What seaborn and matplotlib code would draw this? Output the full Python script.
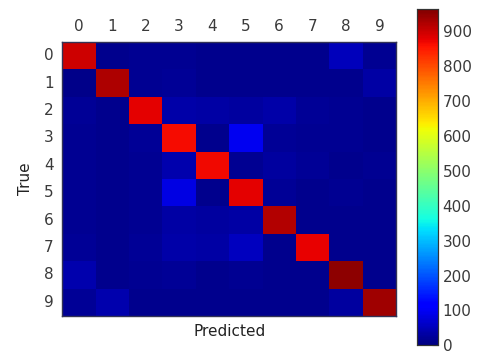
import numpy as np
import pandas as pd
import matplotlib
matplotlib.use("Agg")
import matplotlib.pyplot as plt
import seaborn as sns

classes = [str(i) for i in range(10)]
row0 = [900, 15, 18, 18, 12, 12, 12, 12, 50, 18]
row1 = [10, 925, 18, 20, 12, 12, 12, 12, 12, 32]
row2 = [20, 12, 880, 35, 32, 28, 35, 22, 18, 12]
row3 = [18, 12, 22, 865, 12, 95, 22, 18, 18, 12]
row4 = [18, 12, 18, 40, 870, 18, 28, 22, 12, 18]
row5 = [18, 12, 18, 85, 15, 880, 22, 12, 18, 12]
row6 = [18, 12, 18, 32, 28, 32, 920, 12, 12, 12]
row7 = [20, 12, 22, 35, 32, 55, 12, 875, 12, 12]
row8 = [40, 12, 18, 22, 12, 18, 12, 12, 950, 12]
row9 = [22, 40, 15, 15, 12, 12, 12, 12, 28, 935]
cbar_ticks = [0, 100, 200, 300, 400, 500, 600, 700, 800, 900]

df = pd.DataFrame([row0, row1, row2, row3, row4, row5, row6, row7, row8, row9],
                  index=classes, columns=classes)

sns.set_style("white")
plt.rcParams["font.family"] = ["DejaVu Sans"]

fig = plt.figure(figsize=(4.86, 3.53), dpi=100)
ax = fig.add_axes([0.128, 0.105, 0.687, 0.776])
cax = fig.add_axes([0.858, 0.022, 0.043, 0.953])

sns.heatmap(df, ax=ax, cbar_ax=cax, cmap="jet", vmin=0, vmax=965,
            cbar_kws={"ticks": cbar_ticks})

ax.xaxis.tick_top()
ax.set_xticklabels(classes, rotation=0, fontsize=11, color="#3a3a3a")
ax.set_yticklabels(classes, rotation=0, fontsize=11, color="#3a3a3a")
ax.tick_params(length=0, pad=6)
ax.set_xlabel("Predicted", fontsize=11, color="#222222", labelpad=6)
ax.xaxis.set_label_position("bottom")
ax.set_ylabel("True", fontsize=11, color="#222222", labelpad=8)
for s in ax.spines.values():
    s.set_visible(True)
    s.set_color("#333355")
    s.set_linewidth(1)

cax.tick_params(labelsize=11, colors="#3a3a3a", direction="in", length=4)
for s in cax.spines.values():
    s.set_visible(True)
    s.set_color("#333333")
    s.set_linewidth(0.8)

fig.savefig("out.png", dpi=100)
